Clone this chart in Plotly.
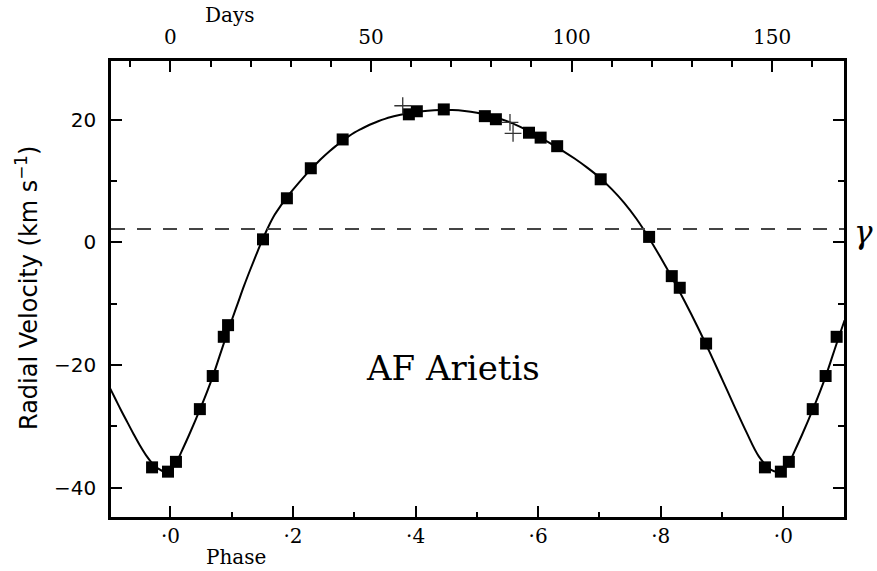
import plotly.graph_objects as go

# ---------------- data ----------------
PERIOD_DAYS = 152.8          # days per orbital cycle (top axis scale)
GAMMA = 2.2                  # systemic velocity (km/s)

# filled squares: observed radial velocities
obs_phase = [-0.030, -0.004, 0.009, 0.048, 0.069, 0.087, 0.094, 0.151, 0.190,
             0.229, 0.281, 0.389, 0.402, 0.446, 0.513, 0.531, 0.585, 0.604,
             0.631, 0.702, 0.781, 0.818, 0.831, 0.874,
             0.970, 0.996, 1.009, 1.048, 1.069, 1.087]
obs_rv = [-36.7, -37.4, -35.8, -27.2, -21.8, -15.4, -13.5, 0.5, 7.2,
          12.1, 16.8, 20.9, 21.4, 21.7, 20.6, 20.1, 17.9, 17.1,
          15.7, 10.3, 0.9, -5.5, -7.4, -16.5,
          -36.7, -37.4, -35.8, -27.2, -21.8, -15.4]

# plus signs: other observations
other_phase = [0.379, 0.554, 0.559]
other_rv = [22.3, 19.6, 17.8]

# orbital solution curve
curve_phase = [-0.10, -0.09, -0.08, -0.07, -0.06, -0.05, -0.04, -0.03, -0.02,
               -0.01, 0.00, 0.01, 0.02, 0.03, 0.04, 0.05, 0.06, 0.07, 0.08,
               0.09, 0.10, 0.11, 0.12, 0.13, 0.14, 0.15, 0.16, 0.17, 0.18,
               0.19, 0.20, 0.21, 0.22, 0.23, 0.24, 0.25, 0.26, 0.27, 0.28,
               0.29, 0.30, 0.31, 0.32, 0.33, 0.34, 0.35, 0.36, 0.37, 0.38,
               0.39, 0.40, 0.42, 0.44, 0.46, 0.48, 0.50, 0.52, 0.54, 0.56,
               0.58, 0.60, 0.62, 0.64, 0.66, 0.68, 0.70, 0.72, 0.74, 0.76,
               0.78, 0.80, 0.82, 0.84, 0.86, 0.88, 0.90, 0.92, 0.94, 0.96,
               0.98, 0.99, 1.00, 1.01, 1.02, 1.03, 1.04, 1.05, 1.06, 1.07,
               1.08, 1.09, 1.10]
curve_rv = [-23.5, -25.5, -27.5, -29.4, -31.3, -33.1, -34.7, -36.0, -36.9,
            -37.4, -37.1, -35.8, -33.7, -31.5, -29.2, -26.8, -24.3, -21.6, -18.6,
            -15.6, -12.7, -9.9, -7.1, -4.5, -2.0, 0.4, 2.6, 4.5, 6.0,
            7.35, 8.6, 9.8, 10.95, 12.05, 13.05, 14.0, 14.9, 15.75, 16.55,
            17.25, 17.9, 18.45, 18.95, 19.4, 19.8, 20.15, 20.45, 20.7, 20.92,
            21.1, 21.25, 21.48, 21.6, 21.6, 21.45, 21.15, 20.7, 20.1, 19.35,
            18.4, 17.3, 16.15, 14.95, 13.65, 12.2, 10.6, 8.7, 6.5, 3.9,
            0.85, -2.5, -6.05, -9.8, -13.75, -17.95, -22.3, -26.7, -31.0, -34.9,
            -37.1, -37.4, -37.1, -35.8, -33.7, -31.5, -29.2, -26.8, -24.3, -21.6,
            -18.6, -15.6, -12.7]

phase_ticks = [0.0, 0.2, 0.4, 0.6, 0.8, 1.0]
phase_labels = ["\u00b70", "\u00b72", "\u00b74", "\u00b76", "\u00b78", "\u00b70"]
phase_minor = [0.1, 0.3, 0.5, 0.7, 0.9]
day_ticks = [0, 50, 100, 150]
rv_ticks = [-40, -20, 0, 20]
rv_minor = [-30, -10, 10]

PHASE_RANGE = [-0.097, 1.099]
RV_RANGE = [-44.8, 29.6]

SERIF = "DejaVu Serif"
SANS = "DejaVu Sans"

fig = go.Figure()

fig.add_trace(go.Scatter(
    x=curve_phase, y=curve_rv, mode="lines",
    line=dict(color="black", width=2, shape="spline", smoothing=1.0),
    hoverinfo="skip", showlegend=False))

fig.add_trace(go.Scatter(
    x=obs_phase, y=obs_rv, mode="markers",
    marker=dict(symbol="square", size=12, color="black"),
    showlegend=False))

fig.add_trace(go.Scatter(
    x=other_phase, y=other_rv, mode="markers",
    marker=dict(symbol="cross-thin-open", size=12, color="#333333",
                line=dict(color="#333333", width=1.3)),
    showlegend=False))

# invisible trace so the top (days) axis is instantiated
fig.add_trace(go.Scatter(
    x=[PHASE_RANGE[0] * PERIOD_DAYS, PHASE_RANGE[1] * PERIOD_DAYS],
    y=[GAMMA, GAMMA], xaxis="x2", mode="markers",
    marker=dict(opacity=0), hoverinfo="skip", showlegend=False))

# systemic velocity dashed line
fig.add_shape(type="line", xref="x domain", yref="y", x0=0, x1=1,
              y0=GAMMA, y1=GAMMA,
              line=dict(color="#444444", width=2, dash="14px,12px"))

ML, MR, MT, MB = 111, 33, 61, 54
PW, PH = 877 - ML - MR, 571 - MT - MB


def px(x):
    return (x - ML) / PW


def py(y):
    return (571 - MB - y) / PH


fig.update_layout(
    width=877, height=571,
    margin=dict(l=ML, r=MR, t=MT, b=MB),
    paper_bgcolor="white", plot_bgcolor="white",
    xaxis=dict(
        range=PHASE_RANGE, tickmode="array", tickvals=phase_ticks,
        ticktext=phase_labels, ticks="inside", ticklen=11, tickwidth=1.5,
        tickcolor="black", showline=True, linewidth=2.5, linecolor="black",
        mirror=False, showgrid=False, zeroline=False,
        tickfont=dict(family=SERIF, size=20, color="black"),
        ticklabelstandoff=-1,
        minor=dict(tickmode="array", tickvals=phase_minor, ticks="inside",
                   ticklen=5, tickwidth=1.5, tickcolor="black")),
    xaxis2=dict(
        overlaying="x", side="top", anchor="y",
        range=[PHASE_RANGE[0] * PERIOD_DAYS, PHASE_RANGE[1] * PERIOD_DAYS],
        tickmode="array", tickvals=day_ticks, ticks="inside", ticklen=11,
        tickwidth=1.5, tickcolor="black", showline=True, linewidth=2.5,
        linecolor="black", showgrid=False, zeroline=False,
        tickfont=dict(family=SERIF, size=20, color="black"),
        ticklabelstandoff=6,
        minor=dict(dtick=10, tick0=0, ticks="inside", ticklen=6,
                   tickwidth=1.5, tickcolor="black")),
    yaxis=dict(
        range=RV_RANGE, tickmode="array", tickvals=rv_ticks, ticks="inside",
        ticklen=11, tickwidth=1.5, tickcolor="black", showline=True,
        linewidth=2.5, linecolor="black", mirror="ticks", showgrid=False,
        zeroline=False,
        tickfont=dict(family=SANS, size=20, color="black"),
        ticklabelstandoff=8,
        minor=dict(tickmode="array", tickvals=rv_minor, ticks="inside",
                   ticklen=6, tickwidth=1.5, tickcolor="black")),
    annotations=[
        dict(text="AF Arietis", x=0.461, y=-20.5, xref="x", yref="y",
             xanchor="center", yanchor="middle", showarrow=False,
             font=dict(family=SERIF, size=34, color="black")),
        dict(text="Days", x=px(229.5), y=py(15),
             xref="paper", yref="paper", xanchor="center", yanchor="middle",
             showarrow=False, font=dict(family=SERIF, size=20, color="black")),
        dict(text="Phase", x=px(236), y=py(557),
             xref="paper", yref="paper", xanchor="center", yanchor="middle",
             showarrow=False, font=dict(family=SERIF, size=20, color="black")),
        dict(text="Radial Velocity (km s<sup>\u22121</sup>)",
             x=px(27), y=py(288), xref="paper",
             yref="paper", xanchor="center", yanchor="middle",
             showarrow=False, textangle=-90,
             font=dict(family=SANS, size=24, color="black")),
        dict(text="<i>\u03b3</i>", x=px(863), y=GAMMA,
             xref="paper", yref="y", xanchor="center", yanchor="middle",
             showarrow=False, yshift=-3,
             font=dict(family=SERIF, size=31, color="black")),
    ],
)

fig.write_html("out.html",
               config={"displayModeBar": False},
               post_script="document.body.style.margin='0px';"
                           "document.body.style.padding='0px';")
